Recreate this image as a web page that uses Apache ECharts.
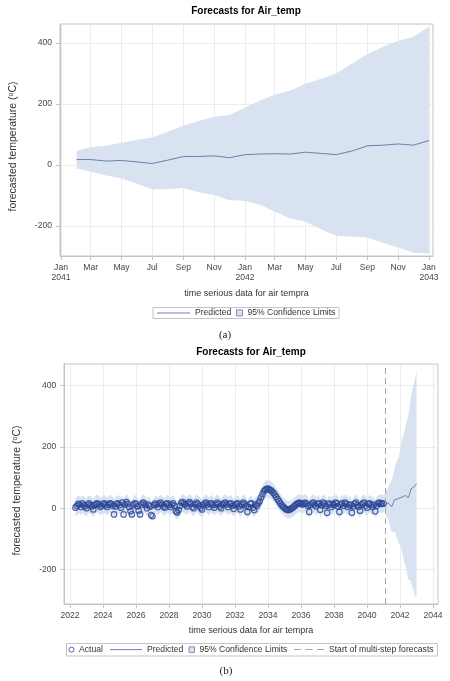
<!DOCTYPE html>
<html>
<head>
<meta charset="utf-8">
<script src="https://cdn.jsdelivr.net/npm/echarts@6/dist/echarts.min.js"></script>
<style>html,body{margin:0;padding:0;background:#fff}#c{width:450px;height:681px}</style>
</head>
<body>
<div id="c"></div>
<script>
// ---------------- data ----------------
// monthly observations, first month = May 2022
const actualStart = [2022, 5];
const actual = [
  2, 8, 14, 12, 4, 16, 10, 6,
  0, 12, 16, 10, 6, -4, 10, 14, 16, 12, 4, 8,
  14, 16, 10, 4, 12, 16, 14, 8, -20, 6, 14, 16,
  10, 2, 18, -20, 12, 20, 14, 4, -10, -20, 10, 16,
  14, 6, -8, -20, 12, 18, 16, 10, 0, 12, 6, -22,
  -26, 10, 16, 12, 4, 14, 18, 12, 6, 2, 14, 16,
  10, 4, 12, 16, 8, -10, -14, -6, 8, 18, 20, 14,
  12, 6, 16, 20, 14, 4, 0, 12, 18, 14, 8, 2,
  -4, 10, 16, 18, 12, 4, 14, 16, 10, 2, 12, 18,
  14, 6, 0, 12, 16, 18, 12, 4, 14, 16, 8, -2,
  10, 14, 16, 6, -4, 12, 18, 14, 8, -12, 4, 14,
  16, 2, -6, 12, 8, 16, 24, 35, 46, 55, 60, 63,
  64, 61, 59, 55, 50, 44, 37, 30, 23, 16, 10, 5,
  1, -3, -5, -6, -4, -1, 2, 6, 10, 14, 17, 18,
  15, 12, 16, 18, 14, 8, -12, 10, 16, 18, 12, 6,
  14, 16, -5, 10, 18, 14, 8, -15, 16, 12, 4, 14,
  10, 18, 16, 6, -12, 12, 16, 8, 18, 14, 4, 10,
  12, -15, 6, 14, 18, 10, 4, -8, 12, 16, 18, 8,
  2, 14, 16, 10, 4, 12, -10, 8, 16, 18, 14, 16,
  15
];
// one-step-ahead predictions over the observed months
const fitPredicted = [
  4, 6, 12, 12, 6, 14, 10, 6,
  3, 10, 14, 10, 6, 0, 8, 13, 15, 12, 6, 8,
  12, 14, 10, 6, 11, 15, 13, 9, 2, 6, 12, 14,
  10, 5, 15, 2, 10, 17, 13, 6, -2, -4, 8, 14,
  12, 7, -2, -6, 9, 15, 15, 10, 3, 10, 7, -5,
  -10, 5, 13, 11, 6, 12, 16, 12, 7, 4, 12, 14,
  10, 6, 11, 14, 8, -4, -8, -3, 7, 15, 17, 13,
  11, 7, 14, 17, 13, 6, 2, 11, 16, 13, 8, 4,
  0, 8, 14, 16, 11, 5, 12, 14, 10, 4, 11, 16,
  13, 7, 2, 10, 14, 16, 11, 6, 12, 14, 8, 1,
  8, 12, 14, 7, 0, 10, 16, 13, 8, -6, 4, 12,
  14, 4, -2, 10, 10, 14, 21, 33, 44, 53, 59, 62,
  63, 62, 60, 56, 51, 45, 38, 31, 24, 17, 11, 6,
  2, -2, -4, -5, -4, -2, 1, 5, 9, 13, 16, 17,
  15, 12, 15, 17, 14, 9, -4, 8, 14, 16, 12, 7,
  12, 14, 0, 9, 16, 13, 8, -6, 12, 11, 6, 12,
  10, 15, 15, 7, -4, 10, 14, 9, 15, 13, 6, 10,
  11, -6, 5, 12, 16, 10, 5, -2, 10, 14, 16, 9,
  4, 12, 14, 10, 6, 10, -3, 7, 14, 16, 14, 15,
  15
];
const fitLower = [
  -25, -23, -17, -17, -23, -15, -19, -23,
  -26, -19, -15, -19, -23, -29, -21, -16, -14, -17, -23, -21,
  -17, -15, -19, -23, -18, -14, -16, -20, -27, -23, -17, -15,
  -19, -24, -14, -27, -19, -12, -16, -23, -31, -33, -21, -15,
  -17, -22, -31, -35, -20, -14, -14, -19, -26, -19, -22, -34,
  -39, -24, -16, -18, -23, -17, -13, -17, -22, -25, -17, -15,
  -19, -23, -18, -15, -21, -33, -37, -32, -22, -14, -12, -16,
  -18, -22, -15, -12, -16, -23, -27, -18, -13, -16, -21, -25,
  -29, -21, -15, -13, -18, -24, -17, -15, -19, -25, -18, -13,
  -16, -22, -27, -19, -15, -13, -18, -23, -17, -15, -21, -28,
  -21, -17, -15, -22, -29, -19, -13, -16, -21, -35, -25, -17,
  -15, -25, -31, -19, -19, -15, -8, 4, 15, 24, 30, 33,
  34, 33, 31, 27, 22, 16, 9, 2, -5, -12, -18, -23,
  -27, -31, -33, -34, -33, -31, -28, -24, -20, -16, -13, -12,
  -14, -17, -14, -12, -15, -20, -33, -21, -15, -13, -17, -22,
  -17, -15, -29, -20, -13, -16, -21, -35, -17, -18, -23, -17,
  -19, -14, -14, -22, -33, -19, -15, -20, -14, -16, -23, -19,
  -18, -35, -24, -17, -13, -19, -24, -31, -19, -15, -13, -20,
  -25, -17, -15, -19, -23, -19, -32, -22, -15, -13, -15, -14,
  -14
];
const fitUpper = [
  33, 35, 41, 41, 35, 43, 39, 35,
  32, 39, 43, 39, 35, 29, 37, 42, 44, 41, 35, 37,
  41, 43, 39, 35, 40, 44, 42, 38, 31, 35, 41, 43,
  39, 34, 44, 31, 39, 46, 42, 35, 27, 25, 37, 43,
  41, 36, 27, 23, 38, 44, 44, 39, 32, 39, 36, 24,
  19, 34, 42, 40, 35, 41, 45, 41, 36, 33, 41, 43,
  39, 35, 40, 43, 37, 25, 21, 26, 36, 44, 46, 42,
  40, 36, 43, 46, 42, 35, 31, 40, 45, 42, 37, 33,
  29, 37, 43, 45, 40, 34, 41, 43, 39, 33, 40, 45,
  42, 36, 31, 39, 43, 45, 40, 35, 41, 43, 37, 30,
  37, 41, 43, 36, 29, 39, 45, 42, 37, 23, 33, 41,
  43, 33, 27, 39, 39, 43, 50, 62, 73, 82, 88, 91,
  92, 91, 89, 85, 80, 74, 67, 60, 53, 46, 40, 35,
  31, 27, 25, 24, 25, 27, 30, 34, 38, 42, 45, 46,
  44, 41, 44, 46, 43, 38, 25, 37, 43, 45, 41, 36,
  41, 43, 29, 38, 45, 42, 37, 23, 41, 40, 35, 41,
  39, 44, 44, 36, 25, 39, 43, 38, 44, 42, 35, 39,
  40, 23, 34, 41, 45, 39, 34, 27, 39, 43, 45, 38,
  33, 41, 43, 39, 35, 39, 26, 36, 43, 45, 43, 44,
  44
];
// multi-step forecasts, first month = Feb 2041
const forecastStart = [2041, 2];
const forecastPredicted = [18, 18, 13, 15, 10, 5, 16, 28, 28, 30, 24, 34,
                           36, 37, 36, 42, 38, 34, 46, 63, 65, 69, 65, 80];
const forecastLower = [-11, -22, -34, -44, -61, -79, -79, -75, -89, -98, -115, -117,
                       -131, -153, -175, -186, -210, -232, -235, -237, -255, -270, -287, -290];
const forecastUpper = [47, 59, 63, 73, 83, 90, 109, 129, 144, 158, 164, 188,
                       212, 230, 244, 266, 283, 300, 332, 364, 387, 407, 420, 453];
// tick labels
const tickMonthsA = ['2041-01', '2041-03', '2041-05', '2041-07', '2041-09', '2041-11',
                     '2042-01', '2042-03', '2042-05', '2042-07', '2042-09', '2042-11', '2043-01'];
const tickLabelsA = ['Jan\n2041', 'Mar', 'May', 'Jul', 'Sep', 'Nov',
                     'Jan\n2042', 'Mar', 'May', 'Jul', 'Sep', 'Nov', 'Jan\n2043'];
const tickYearsB = [2022, 2024, 2026, 2028, 2030, 2032, 2034, 2036, 2038, 2040, 2042, 2044];
const tickValuesY = [-200, 0, 200, 400];

// ---------------- build ----------------
const FONT = '"Liberation Sans", Arial, sans-serif';
const BAND = '#d9e2f1';
const PRED = '#6b80ad';
const ACT = '#2a4596';
const FRAME = '#c4c4c4';
const GRID = '#ececec';
const DASH = '#a6a6a6';
const LABEL = '#474747';

function monthSeq(start, n) {
  return Array.from({length: n}, (_, i) => Date.UTC(start[0], start[1] - 1 + i, 1));
}
const actualTs = monthSeq(actualStart, actual.length);
const forecastTs = monthSeq(forecastStart, forecastPredicted.length);
const allTs = actualTs.concat(forecastTs);
const allPred = fitPredicted.concat(forecastPredicted);
const allLower = fitLower.concat(forecastLower);
const allUpper = fitUpper.concat(forecastUpper);
const tickTsA = tickMonthsA.map(s => Date.UTC(+s.slice(0, 4), +s.slice(5) - 1, 1));
const tickTsB = tickYearsB.map(y => Date.UTC(y, 0, 1));

function bandSeries(idx, ts, lo, hi) {
  const data = ts.map((t, i) => [t, lo[i], hi[i]]);
  return {
    type: 'custom', name: '95% Confidence Limits', xAxisIndex: idx, yAxisIndex: idx,
    data: data, encode: {x: 0, y: [1, 2]}, clip: true, z: 1, silent: true,
    itemStyle: {color: BAND},
    renderItem: function (params, api) {
      if (params.dataIndex !== 0) return null;
      const pts = [];
      for (let i = 0; i < data.length; i++) pts.push(api.coord([data[i][0], data[i][2]]));
      for (let i = data.length - 1; i >= 0; i--) pts.push(api.coord([data[i][0], data[i][1]]));
      return {type: 'polygon', shape: {points: pts}, style: {fill: BAND}};
    }
  };
}
function predSeries(idx, ts, vals) {
  return {
    type: 'line', name: 'Predicted', xAxisIndex: idx, yAxisIndex: idx,
    data: ts.map((t, i) => [t, vals[i]]), showSymbol: false, symbol: 'none',
    lineStyle: {color: PRED, width: 1}, itemStyle: {color: PRED}, z: 3, silent: true
  };
}
function xAxisDate(idx, min, max, ticks, fmt, gap) {
  return {
    type: 'value', gridIndex: idx, min: min, max: max, scale: true,
    axisLine: {show: true, onZero: false, lineStyle: {color: FRAME}},
    axisTick: {show: true, length: 4, customValues: ticks, lineStyle: {color: FRAME}},
    axisLabel: {customValues: ticks, formatter: fmt, margin: 7, fontSize: 8.6, color: LABEL,
                lineHeight: 10, fontFamily: FONT, hideOverlap: false},
    splitLine: {show: true, lineStyle: {color: GRID}},
    name: 'time serious data for air tempra', nameLocation: 'middle', nameGap: gap,
    nameTextStyle: {fontSize: 9, color: '#333', fontFamily: FONT}
  };
}
function yAxisVal(idx, min, max, margin) {
  return {
    type: 'value', gridIndex: idx, min: min, max: max,
    axisLine: {show: true, onZero: false, lineStyle: {color: FRAME}},
    axisTick: {show: true, length: 4, customValues: tickValuesY, lineStyle: {color: FRAME}},
    axisLabel: {customValues: tickValuesY, margin: margin, fontSize: 8.6, color: LABEL, fontFamily: FONT},
    splitLine: {show: true, lineStyle: {color: GRID}},
    name: 'forecasted temperature ({s|o}C)', nameLocation: 'middle', nameGap: 41,
    nameTextStyle: {fontSize: 10.5, color: '#333', fontFamily: FONT, padding: [0, 13, 0, 0],
                    rich: {s: {fontSize: 7, verticalAlign: 'top', color: '#333', fontFamily: FONT}}}
  };
}
function nearestIdx(arr, v) {
  let best = -1, bd = Infinity;
  arr.forEach((a, i) => { const d = Math.abs(a - v); if (d < bd) { bd = d; best = i; } });
  return bd < 86400000 * 3 ? best : -1;
}
function legendOne(name, left, top, iw, ih, icon, itemStyle) {
  return {
    left: left, top: top, padding: 0, itemWidth: iw, itemHeight: ih, selectedMode: false,
    textStyle: {fontSize: 8.6, color: '#333', fontFamily: FONT},
    data: [{name: name, icon: icon, itemStyle: itemStyle}]
  };
}
const LEG_A = 308.4, LEG_B = 645.1;

const option = {
  animation: false,
  backgroundColor: '#fff',
  textStyle: {fontFamily: FONT},
  title: [
    {text: 'Forecasts for Air_temp', left: 246, top: 6.5, textAlign: 'center', textVerticalAlign: 'top', padding: 0,
     textStyle: {fontSize: 10, fontWeight: 'bold', color: '#000', fontFamily: FONT}},
    {text: 'Forecasts for Air_temp', left: 251, top: 347.2, textAlign: 'center', textVerticalAlign: 'top', padding: 0,
     textStyle: {fontSize: 10, fontWeight: 'bold', color: '#000', fontFamily: FONT}}
  ],
  grid: [
    {left: 58, top: 24, width: 375, height: 232, show: true, borderColor: FRAME, borderWidth: 1},
    {left: 64, top: 364, width: 374, height: 240, show: true, borderColor: FRAME, borderWidth: 1}
  ],
  xAxis: [
    xAxisDate(0, Date.UTC(2040, 11, 30), Date.UTC(2043, 0, 9), tickTsA,
      v => { const i = nearestIdx(tickTsA, v); return i >= 0 ? tickLabelsA[i] : ''; }, 33),
    xAxisDate(1, Date.UTC(2021, 7, 21), Date.UTC(2044, 3, 21), tickTsB,
      v => { const i = nearestIdx(tickTsB, v); return i >= 0 ? String(tickYearsB[i]) : ''; }, 22)
  ],
  yAxis: [
    yAxisVal(0, -298, 462, 8),
    yAxisVal(1, -312, 470, 7.6)
  ],
  legend: [
    legendOne('Predicted', 157, LEG_A, 33, 1, 'rect', {color: PRED, borderWidth: 0}),
    legendOne('95% Confidence Limits', 236, LEG_A, 6, 6, 'rect', {color: BAND, borderColor: '#7f8db0', borderWidth: 1}),
    legendOne('Actual', 68.5, LEG_B, 5, 5, 'circle', {color: '#fff', borderColor: ACT, borderWidth: 1}),
    legendOne('Predicted', 110, LEG_B, 32, 1, 'rect', {color: PRED, borderWidth: 0}),
    legendOne('95% Confidence Limits', 188.5, LEG_B, 5.5, 5.5, 'rect', {color: BAND, borderColor: '#7f8db0', borderWidth: 1}),
    legendOne('Start of multi-step forecasts', 294, LEG_B, 30, 1,
      'path://M0,0h7v1h-7z M11.5,0h7v1h-7z M23,0h7v1h-7z', {color: DASH, borderWidth: 0})
  ],
  graphic: [
    {type: 'rect', silent: true, shape: {x: 153, y: 307.5, width: 186, height: 11},
     style: {fill: 'none', stroke: FRAME, lineWidth: 1}},
    {type: 'rect', silent: true, shape: {x: 66.5, y: 643.5, width: 371, height: 12.5},
     style: {fill: 'none', stroke: FRAME, lineWidth: 1}},
    {type: 'text', silent: true, x: 225, y: 335,
     style: {text: '(a)', fontSize: 11, fontFamily: '"Liberation Serif", "Times New Roman", serif',
             fill: '#222', align: 'center', verticalAlign: 'middle'}},
    {type: 'text', silent: true, x: 226, y: 671.5,
     style: {text: '(b)', fontSize: 11, fontFamily: '"Liberation Serif", "Times New Roman", serif',
             fill: '#222', align: 'center', verticalAlign: 'middle'}}
  ],
  series: [
    bandSeries(0, forecastTs, forecastLower, forecastUpper),
    predSeries(0, forecastTs, forecastPredicted),
    bandSeries(1, allTs, allLower, allUpper),
    predSeries(1, allTs, allPred),
    {
      type: 'scatter', name: 'Actual', xAxisIndex: 1, yAxisIndex: 1,
      data: actualTs.map((t, i) => [t, actual[i]]),
      symbol: 'circle', symbolSize: 5.5, z: 4, silent: true,
      itemStyle: {color: 'rgba(255,255,255,0)', borderColor: ACT, borderWidth: 1.2}
    },
    {
      type: 'line', name: 'Start of multi-step forecasts', xAxisIndex: 1, yAxisIndex: 1,
      data: [], symbol: 'none', lineStyle: {color: DASH, width: 1, type: [6, 4]}, itemStyle: {color: DASH},
      markLine: {
        silent: true, symbol: ['none', 'none'], label: {show: false}, z: 5,
        lineStyle: {color: DASH, width: 1, type: [6, 4]},
        data: [{xAxis: forecastTs[0]}]
      }
    }
  ]
};

const chart = echarts.init(document.getElementById('c'), null, {renderer: 'canvas'});
chart.setOption(option);
</script>
</body>
</html>
